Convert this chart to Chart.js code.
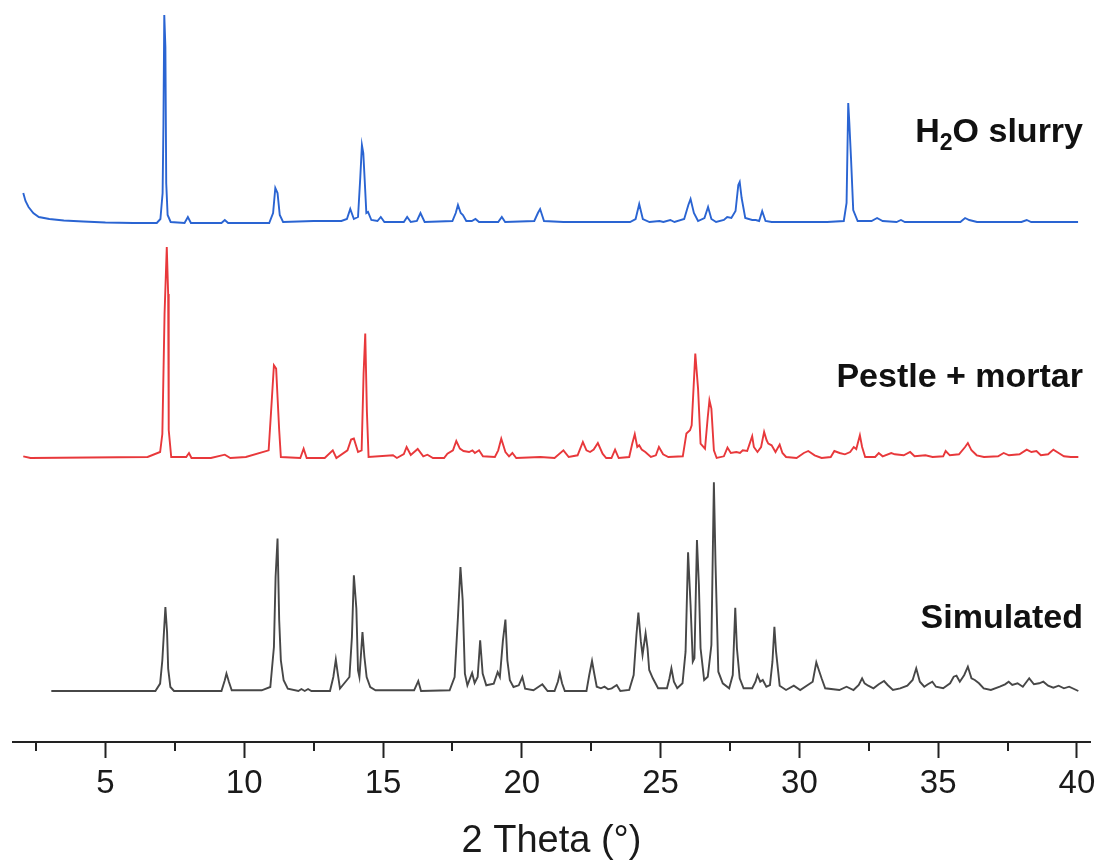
<!DOCTYPE html>
<html>
<head>
<meta charset="utf-8">
<script src="https://cdn.jsdelivr.net/npm/chart.js@4.4.1/dist/chart.umd.min.js"></script>
<style>
    html, body { margin: 0; padding: 0; background: #fff; }
    #wrap { width: 1099px; height: 867px; }
</style>
</head>
<body>
<div id="wrap"><canvas id="xrdChart" width="1099" height="867"></canvas></div>
<script>
// 2 theta (deg), intensity (a.u.)
const slurryPts = [[2.04,30],[2.12,22],[2.23,16],[2.4,10],[2.6,6],[2.98,4],[3.5,2.5],[4.2,1.5],[5.0,0.5],[6.0,0],[6.85,0],[6.98,4],[7.06,30],[7.09,100],[7.12,208],[7.16,176],[7.19,40],[7.24,8],[7.35,1],[7.85,0],[7.97,6],[8.08,0],[9.18,0],[9.3,3],[9.42,0],[10.9,0],[11.04,10],[11.12,35],[11.2,30],[11.28,8],[11.4,1],[12.5,2],[13.5,2],[13.7,4],[13.82,14],[13.95,4],[14.1,6],[14.18,45],[14.24,78],[14.29,70],[14.34,43],[14.4,10],[14.46,11],[14.58,3],[14.8,2],[14.92,6],[15.05,1],[15.75,1],[15.87,6],[16.0,1],[16.22,2],[16.35,10],[16.5,1],[17.5,2],[17.62,10],[17.7,18],[17.8,10],[17.88,8],[18.0,2],[18.2,2],[18.33,4],[18.46,1],[19.15,1],[19.28,6],[19.4,1],[20.45,2],[20.58,10],[20.66,14],[20.8,2],[21.5,1],[23.9,1],[24.1,4],[24.23,19],[24.36,4],[24.6,1],[24.96,2],[25.1,1],[25.35,3],[25.5,1],[25.85,4],[26.0,18],[26.08,24],[26.2,10],[26.35,2],[26.58,5],[26.71,16],[26.83,4],[27.0,1],[27.28,3],[27.4,6],[27.55,5],[27.7,12],[27.8,38],[27.85,41],[27.92,25],[28.05,5],[28.3,3],[28.43,3],[28.55,2],[28.66,12],[28.78,2],[29.0,1],[31.0,1],[31.6,2],[31.7,20],[31.76,120],[31.8,100],[31.86,65],[31.94,13],[32.1,2],[32.6,2],[32.8,5],[33.0,2],[33.5,1],[33.66,3],[33.8,1],[35.8,1],[35.97,5],[36.12,3],[36.4,1],[38.0,1],[38.19,3],[38.35,1],[40.04,1]];

const pestlePts = [[2.04,1.7],[2.3,0],[6.52,1],[6.97,6],[7.05,24],[7.13,144],[7.21,211],[7.26,164],[7.28,28],[7.37,1],[7.91,1],[8.01,5],[8.1,0],[8.8,0],[9.3,3.3],[9.5,0],[10.06,1],[10.88,7.7],[11.0,61],[11.07,92.7],[11.15,89.4],[11.2,61],[11.26,27.7],[11.32,1],[12.02,0],[12.14,9.4],[12.25,0],[12.9,0],[13.19,7.7],[13.32,0],[13.72,7.7],[13.85,18.4],[13.95,19.4],[14.1,6],[14.23,7.7],[14.3,84],[14.36,124.4],[14.42,46],[14.48,1],[15.36,2.7],[15.5,0],[15.75,4],[15.85,11],[16.0,3],[16.25,9],[16.45,1.7],[16.6,3.3],[16.8,0],[17.2,0],[17.32,4.3],[17.52,7.7],[17.64,17],[17.77,9.4],[17.9,7],[18.1,6],[18.22,7.7],[18.31,5],[18.46,7.7],[18.6,1.7],[19.03,1],[19.15,7.7],[19.26,19.4],[19.41,6],[19.54,1.7],[19.66,5],[19.8,0],[20.67,1],[21.18,0],[21.5,7.7],[21.69,1],[22.01,2.7],[22.2,16],[22.33,7.7],[22.46,6],[22.59,8.4],[22.74,15],[22.91,4.3],[23.04,0],[23.23,0],[23.36,8.4],[23.49,0],[23.87,1],[23.98,14.4],[24.07,23.7],[24.16,11],[24.23,12.7],[24.32,8.4],[24.45,6],[24.65,1],[24.83,2.7],[24.94,11],[25.09,3.7],[25.28,1],[25.8,1.7],[25.93,24.4],[26.06,27.7],[26.12,32.7],[26.25,104.4],[26.35,69.4],[26.44,14.4],[26.6,9.4],[26.7,41],[26.76,57.7],[26.83,49.4],[26.92,7.7],[27.02,0],[27.28,1.7],[27.41,10.4],[27.53,5],[27.73,6],[27.86,5],[27.96,7.7],[28.12,7],[28.21,14.4],[28.3,21.7],[28.36,11],[28.49,6],[28.62,11],[28.73,26.1],[28.82,17.7],[28.88,14.4],[29.0,12.7],[29.14,6],[29.29,13.4],[29.39,5],[29.52,1],[29.9,0],[30.16,5],[30.32,7],[30.55,2.7],[30.8,0],[31.13,1],[31.26,7],[31.45,5],[31.64,3.7],[31.83,6],[31.96,11],[32.05,9],[32.18,22.7],[32.26,11],[32.37,1],[32.73,1],[32.86,5],[33.0,1.7],[33.31,5],[33.44,3.7],[33.76,2.7],[33.99,6],[34.15,1.7],[34.54,2.7],[34.8,1],[35.18,1.7],[35.27,7],[35.42,2.7],[35.75,3.7],[35.97,11],[36.07,15],[36.2,7.7],[36.39,2.7],[36.65,1],[37.16,1.7],[37.36,5],[37.55,2.7],[37.93,3.7],[38.19,8.4],[38.36,6],[38.54,7],[38.7,2.7],[38.96,3.7],[39.15,8.4],[39.34,5],[39.53,1.7],[39.78,1],[40.05,1]];

const simulatedPts = [[3.05,0],[6.8,0],[6.97,7.4],[7.05,30.7],[7.16,84],[7.22,59],[7.26,22.4],[7.34,4],[7.47,0],[9.18,0],[9.3,10.7],[9.36,17.4],[9.45,9],[9.55,0.7],[10.63,0.7],[10.94,4],[11.07,44],[11.13,114],[11.2,152.4],[11.26,70.7],[11.32,30.7],[11.42,10.7],[11.57,2.4],[11.95,0],[12.06,2],[12.18,0],[12.3,2],[12.42,0],[13.09,0],[13.21,14],[13.3,31.4],[13.37,17.4],[13.45,2.4],[13.79,14],[13.88,54],[13.95,115.7],[14.04,82.4],[14.1,20.7],[14.15,14],[14.2,34],[14.26,59],[14.33,34],[14.41,14],[14.54,4],[14.73,0.7],[16.12,0.7],[16.27,10],[16.37,0],[17.4,0.7],[17.58,14],[17.7,74],[17.79,124],[17.87,90.7],[17.95,17.4],[18.04,5.7],[18.21,18],[18.3,8],[18.41,14],[18.5,50.7],[18.59,17.4],[18.72,5.7],[18.99,7.4],[19.13,19],[19.21,14],[19.32,50.7],[19.41,71.4],[19.48,30.7],[19.57,10.7],[19.7,4],[19.89,5.7],[20.02,14],[20.12,2.4],[20.42,0.7],[20.74,6.7],[20.93,0],[21.18,0],[21.3,9.3],[21.37,17.7],[21.45,7.7],[21.55,0],[22.33,0],[22.43,16],[22.53,30],[22.62,16],[22.7,4.3],[22.85,2.7],[22.98,4.3],[23.11,1.7],[23.24,2.7],[23.42,6],[23.55,0],[23.87,1],[24.03,16],[24.13,56],[24.2,78.3],[24.29,49.3],[24.35,36],[24.46,57.7],[24.53,42.7],[24.59,21],[24.72,12.7],[24.91,2.7],[25.23,2.7],[25.32,12.7],[25.39,22.7],[25.48,9.3],[25.6,2.7],[25.79,7.7],[25.9,39.3],[25.99,138.7],[26.08,86],[26.16,29.3],[26.22,32.7],[26.31,151],[26.38,106],[26.44,42.7],[26.57,11],[26.7,14.3],[26.83,46],[26.92,208.7],[26.98,126],[27.08,19.3],[27.24,7.7],[27.47,2.7],[27.6,16],[27.69,83.3],[27.75,42.7],[27.85,12.7],[27.99,2.7],[28.3,2.7],[28.42,9.3],[28.49,16],[28.59,9.3],[28.68,11],[28.81,4.3],[28.94,6],[29.03,29.3],[29.1,64.3],[29.16,39.3],[29.29,5.3],[29.52,1],[29.8,5.3],[30.03,1],[30.48,9.3],[30.61,28.7],[30.7,21],[30.8,12.7],[30.93,2.7],[31.44,1],[31.7,4.3],[31.95,1],[32.14,6],[32.26,12.7],[32.35,7.7],[32.48,5.3],[32.67,2.7],[32.86,6.7],[33.05,10],[33.18,6],[33.37,1],[33.63,2.7],[33.89,5.3],[34.08,11],[34.21,22.7],[34.34,9.3],[34.5,4.3],[34.63,6.7],[34.79,9.3],[34.92,4.3],[35.18,2.7],[35.43,7.7],[35.56,14.3],[35.66,15.3],[35.78,9.3],[35.94,16],[36.07,24.3],[36.2,12.7],[36.32,11],[36.47,7.7],[36.64,2.7],[36.9,1],[37.22,4.3],[37.41,6.7],[37.54,9.3],[37.67,6],[37.86,7.7],[38.05,4.3],[38.28,12.7],[38.45,6.7],[38.64,7.7],[38.79,9.3],[38.96,5.3],[39.15,3.3],[39.34,5.3],[39.53,2.7],[39.72,4.3],[40.05,0]];

const seriesLabels = ['H2O slurry', 'Pestle + mortar', 'Simulated'];
const xTickValues = [2.5, 5, 7.5, 10, 12.5, 15, 17.5, 20, 22.5, 25, 27.5, 30, 32.5, 35, 37.5, 40];

// vertical stacking of the patterns
const stackShift = [519, 284, 51];
const labelLift = [81, 71, 63];
const lineColors = ['#2a64d2', '#e8383b', '#474747'];

const fontFam = '"Liberation Sans", Arial, Helvetica, sans-serif';

function shifted(pts, off) {
    return pts.map(p => ({ x: p[0], y: p[1] + off }));
}

const isMajor = v => Math.abs(v / 5 - Math.round(v / 5)) < 1e-6;

const minorTicks = {
    id: 'minorTicks',
    afterDraw(chart) {
        const ctx = chart.ctx;
        const xs = chart.scales.x;
        const bottom = chart.chartArea.bottom;
        ctx.save();
        ctx.strokeStyle = '#222';
        ctx.lineWidth = 2;
        xTickValues.filter(v => !isMajor(v)).forEach(v => {
            const px = Math.round(xs.getPixelForValue(v));
            ctx.beginPath();
            ctx.moveTo(px, bottom);
            ctx.lineTo(px, bottom + 9);
            ctx.stroke();
        });
        ctx.restore();
    }
};

const traceLabels = {
    id: 'traceLabels',
    afterDatasetsDraw(chart) {
        const ctx = chart.ctx;
        const ys = chart.scales.y;
        const right = chart.chartArea.right - 7;
        ctx.save();
        ctx.fillStyle = '#111';
        ctx.textBaseline = 'alphabetic';
        ctx.textAlign = 'left';
        seriesLabels.forEach((txt, i) => {
            const y = ys.getPixelForValue(stackShift[i] + labelLift[i]);
            let parts;
            if (txt.startsWith('H2O')) {
                parts = [
                    { t: 'H', size: 34, dy: 0 },
                    { t: '2', size: 23, dy: 8 },
                    { t: txt.slice(2), size: 34, dy: 0 }
                ];
            } else {
                parts = [{ t: txt, size: 34, dy: 0 }];
            }
            let total = 0;
            parts.forEach(p => {
                ctx.font = 'bold ' + p.size + 'px ' + fontFam;
                p.w = ctx.measureText(p.t).width;
                total += p.w;
            });
            let x = right - total;
            parts.forEach(p => {
                ctx.font = 'bold ' + p.size + 'px ' + fontFam;
                ctx.fillText(p.t, x, y + p.dy);
                x += p.w;
            });
        });
        ctx.restore();
    }
};

const allPts = [slurryPts, pestlePts, simulatedPts];
const datasets = allPts.map((pts, i) => ({
    label: seriesLabels[i],
    data: shifted(pts, stackShift[i]),
    borderColor: lineColors[i],
    borderWidth: 1.9,
    pointRadius: 0,
    tension: 0,
    fill: false,
    clip: false
}));

new Chart(document.getElementById('xrdChart'), {
    type: 'line',
    data: { datasets: datasets },
    options: {
        responsive: false,
        devicePixelRatio: 1,
        animation: false,
        layout: { padding: { left: 13, right: 9, top: 0, bottom: 0 } },
        plugins: {
            legend: { display: false },
            tooltip: { enabled: false }
        },
        scales: {
            x: {
                type: 'linear',
                min: 1.67,
                max: 40.47,
                afterBuildTicks: s => { s.ticks = xTickValues.map(v => ({ value: v })); },
                afterFit: s => { s.height = 125; s.paddingLeft = 0; s.paddingRight = 0; },
                ticks: {
                    autoSkip: false,
                    maxRotation: 0,
                    padding: 6,
                    color: '#1a1a1a',
                    font: { size: 33, family: fontFam },
                    callback: v => (isMajor(v) ? String(Math.round(v)) : '')
                },
                grid: {
                    display: true,
                    drawOnChartArea: false,
                    drawTicks: true,
                    tickLength: 16,
                    tickWidth: 2,
                    tickColor: c => (c.tick && isMajor(c.tick.value) ? '#222' : 'rgba(0,0,0,0)')
                },
                border: { display: true, color: '#222', width: 2 },
                title: {
                    display: true,
                    text: '2 Theta (°)',
                    color: '#1a1a1a',
                    font: { size: 38, family: fontFam },
                    padding: { top: 10, bottom: 3 }
                }
            },
            y: {
                display: false,
                min: 0,
                max: 742
            }
        }
    },
    plugins: [minorTicks, traceLabels]
});
</script>
</body>
</html>
